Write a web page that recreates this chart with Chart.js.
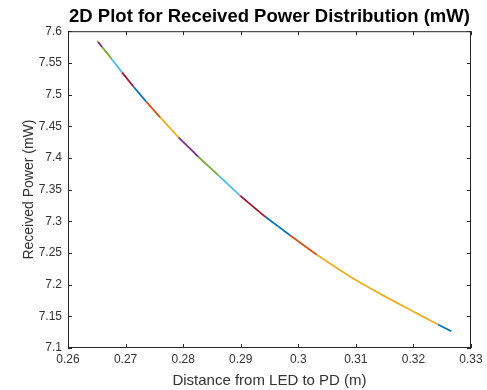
<!DOCTYPE html>
<html lang="en">
<head>
  <meta charset="UTF-8" />
  <title>Received Power Distribution</title>
  <style>
    html, body { margin: 0; padding: 0; background: #fff; }
    canvas { display: block; }
  </style>
</head>
<body>
  <canvas id="powerChart" width="487" height="390"></canvas>

  <script src="https://cdn.jsdelivr.net/npm/chart.js"></script>
  <script>
    // distance from LED to PD (m)
    const distance = [0.26505, 0.26522, 0.26591, 0.26765, 0.26938, 0.27139, 0.27359, 0.27602, 0.27919, 0.28266,
                      0.28613, 0.28989, 0.29422, 0.29856, 0.30319, 0.30896, 0.31473, 0.32052, 0.32427, 0.32659];
    // received power (mW) at those distances
    const power = [7.5850, 7.5831, 7.5753, 7.5554, 7.5350, 7.5123, 7.4887, 7.4640, 7.4325, 7.4015,
                   7.3725, 7.3405, 7.3074, 7.2780, 7.2471, 7.2129, 7.1830, 7.1550, 7.1370, 7.1265];
    // where each coloured piece of the curve starts / ends (index into the arrays above)
    const segBreaks = [0, 1, 2, 3, 4, 5, 6, 7, 8, 9, 10, 11, 12, 13, 14, 18, 19];
    const segColors = ["#EDB120", "#7E2F8E", "#77AC30", "#4DBEEE", "#A2142F", "#0072BD", "#D95319", "#EDB120",
                       "#7E2F8E", "#77AC30", "#4DBEEE", "#A2142F", "#0072BD", "#D95319", "#EDB120", "#0072BD"];
    const xTicks = [0.26, 0.27, 0.28, 0.29, 0.30, 0.31, 0.32, 0.33];
    const yTicks = [7.1, 7.15, 7.2, 7.25, 7.3, 7.35, 7.4, 7.45, 7.5, 7.55, 7.6];

    Chart.defaults.font.family = "'Liberation Sans', Arial, sans-serif";

    // build one dataset per coloured piece
    const datasets = [];
    for (let i = 0; i < segBreaks.length - 1; i++) {
      const pts = [];
      for (let k = segBreaks[i]; k <= segBreaks[i + 1]; k++) {
        pts.push({ x: distance[k], y: power[k] });
      }
      datasets.push({
        data: pts,
        showLine: true,
        borderColor: segColors[i],
        backgroundColor: segColors[i],
        borderWidth: 1.8,
        pointRadius: 0,
        cubicInterpolationMode: "monotone"
      });
    }

    // MATLAB style box with inward ticks on all four sides
    const boxPlugin = {
      id: "matlabBox",
      afterDatasetsDraw(chart) {
        const { ctx, chartArea: a, scales: { x, y } } = chart;
        ctx.save();
        ctx.strokeStyle = "#262626";
        ctx.lineWidth = 1;
        ctx.strokeRect(a.left + 0.5, a.top + 0.5, a.right - a.left - 1, a.bottom - a.top - 1);
        ctx.beginPath();
        x.ticks.forEach(t => {
          const px = Math.round(x.getPixelForValue(t.value)) + 0.5;
          ctx.moveTo(px, a.bottom); ctx.lineTo(px, a.bottom - 4);
          ctx.moveTo(px, a.top); ctx.lineTo(px, a.top + 4);
        });
        y.ticks.forEach(t => {
          const py = Math.round(y.getPixelForValue(t.value)) + 0.5;
          ctx.moveTo(a.left, py); ctx.lineTo(a.left + 4, py);
          ctx.moveTo(a.right, py); ctx.lineTo(a.right - 4, py);
        });
        ctx.stroke();
        ctx.restore();
      }
    };

    new Chart(document.getElementById("powerChart"), {
      type: "scatter",
      data: { datasets: datasets },
      options: {
        responsive: false,
        animation: false,
        devicePixelRatio: 1,
        layout: { padding: { left: 0, right: 16, top: 0, bottom: 0 } },
        plugins: {
          legend: { display: false },
          tooltip: { enabled: false },
          title: {
            display: true,
            text: "2D Plot for Received Power Distribution (mW)",
            color: "#000",
            fullSize: false,
            font: { size: 18.5, weight: "bold" },
            padding: { top: 6, bottom: 3 }
          }
        },
        scales: {
          x: {
            type: "linear",
            min: 0.26,
            max: 0.33,
            afterBuildTicks: s => { s.ticks = xTicks.map(v => ({ value: v })); },
            afterFit: s => { s.height = 42; },
            grid: { display: false, drawTicks: false },
            border: { display: false },
            ticks: {
              color: "#333",
              font: { size: 12 },
              padding: 4,
              maxRotation: 0,
              callback: v => String(Number(v.toFixed(2)))
            },
            title: {
              display: true,
              text: "Distance from LED to PD (m)",
              color: "#333",
              font: { size: 15 },
              padding: { top: 0, bottom: 0 }
            }
          },
          y: {
            type: "linear",
            min: 7.1,
            max: 7.6,
            afterBuildTicks: s => { s.ticks = yTicks.map(v => ({ value: v })); },
            afterFit: s => { s.width = 68; },
            grid: { display: false, drawTicks: false },
            border: { display: false },
            ticks: {
              color: "#333",
              font: { size: 12 },
              padding: 6,
              callback: v => String(Number(v.toFixed(2)))
            },
            title: {
              display: true,
              text: "Received Power (mW)",
              color: "#333",
              font: { size: 14 },
              padding: { top: 21, bottom: 0 }
            }
          }
        }
      },
      plugins: [boxPlugin]
    });
  </script>
</body>
</html>
